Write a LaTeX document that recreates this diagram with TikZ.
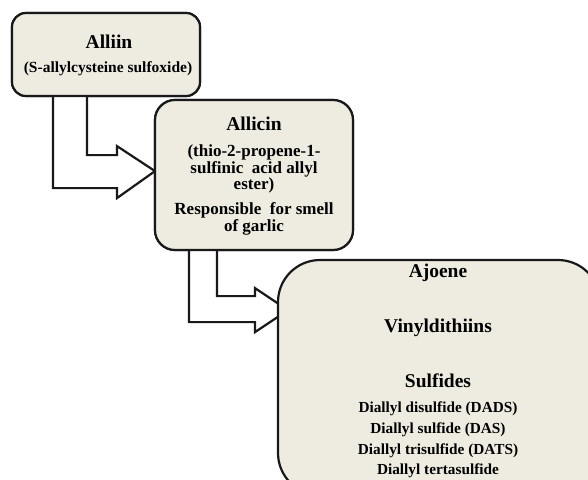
\documentclass[tikz,border=0pt]{standalone}
\usepackage{fontspec}
\setmainfont{Liberation Serif}
\definecolor{garlic}{HTML}{EEECE1}
\tikzset{
  box/.style={draw=black!90, line width=2.2pt, fill=garlic, rounded corners=#1},
  box/.default=15pt,
  hollow/.style={draw=black!90, line width=2.2pt, fill=white, line join=miter},
  head/.style={anchor=base, font=\fontsize{19.5}{22}\selectfont\bfseries},
  sub/.style={anchor=base, font=\fontsize{15.5}{17}\selectfont\bfseries},
  mid/.style={anchor=base, font=\fontsize{17}{19}\selectfont\bfseries},
  small/.style={anchor=base, font=\fontsize{15.3}{17}\selectfont\bfseries},
}
\begin{document}
\begin{tikzpicture}[x=1pt,y=-1pt]
\useasboundingbox (0,0) rectangle (588,479);
\clip (0,0) rectangle (588,479);
% boxes are placed first only to get their anchors
\path (106,54.5) coordinate (c1) (254,175) coordinate (c2);
\node[box=14pt, minimum width=188pt, minimum height=83pt] (alliin) at (c1) {};
% hollow bent arrows
\draw[hollow] ([xshift=-53pt,yshift=5pt]alliin.south) -- ++(0,96) -- ++(64,0) -- ++(0,10)
   -- ++(38,-27) -- ++(-38,-25) -- ++(0,9) -- ++(-30,0) -- ++(0,-63);
\node[box=20pt, minimum width=198pt, minimum height=150pt] (allicin) at (c2) {};
\draw[hollow] ([xshift=-65pt,yshift=6pt]allicin.south) -- ++(0,77) -- ++(66,0) -- ++(0,10)
   -- ++(33,-22) -- ++(-33,-22) -- ++(0,8) -- ++(-38,0) -- ++(0,-51);
\node[box=42pt, minimum width=322pt, minimum height=235pt] (products) at (439,377.5) {};
% redraw the first two boxes over the arrow tails
\node[box=14pt, minimum width=188pt, minimum height=83pt] at (alliin) {};
\node[box=20pt, minimum width=198pt, minimum height=150pt] at (allicin) {};

% texts
\node[head] (alliinname) at (109,48) {Alliin};
\node[sub] (alliinsub) at (108,72) {(S-allylcysteine sulfoxide)};

\node[head] (allicinname) at (254,130) {Allicin};
\node[mid] (allicinA) at (254,156) {(thio-2-propene-1-};
\node[mid] (allicinB) at (254,173) {sulfinic\ \ acid allyl};
\node[mid] (allicinC) at (254,189) {ester)};
\node[mid] (allicinD) at (254,214) {Responsible\ \ for smell};
\node[mid] (allicinE) at (254,231) {of garlic};

\node[head] (ajoene) at (438,277) {Ajoene};
\node[head] (vinyl) at (438,332) {Vinyldithiins};
\node[head] (sulfides) at (438,387) {Sulfides};
\node[small] (dads) at (438,412) {Diallyl disulfide (DADS)};
\node[small] (das) at (438,433) {Diallyl sulfide (DAS)};
\node[small] (dats) at (438,454) {Diallyl trisulfide (DATS)};
\node[small] (datts) at (438,474.5) {Diallyl tertasulfide};
\end{tikzpicture}
\end{document}
